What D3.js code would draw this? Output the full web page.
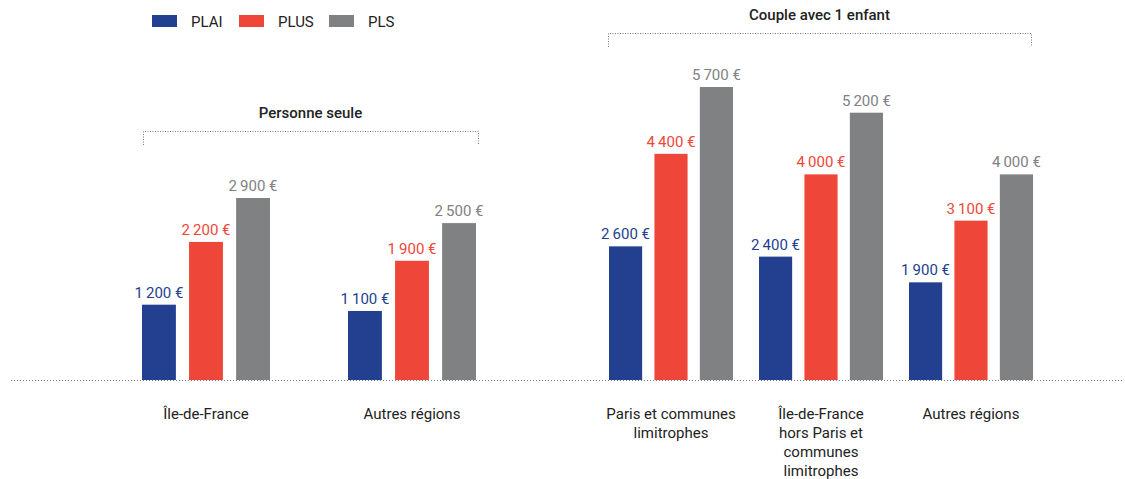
<!DOCTYPE html>
<html>
<head>
<meta charset="utf-8">
<script src="https://cdn.jsdelivr.net/npm/d3@7"></script>
<style>
  body { margin: 0; background: #fff; }
  svg { display: block; font-family: Roboto, "Noto Sans", sans-serif; }
</style>
</head>
<body>
<div id="chart"></div>
<script>
const width = 1125;
const height = 479;

// data
const series = ["PLAI", "PLUS", "PLS"];
const colors = ["#233f8f", "#ef463a", "#808183"];

const soloTitle = "Personne seule";
const soloGroups = ["Île-de-France", "Autres régions"];
const soloValues = [
    [1200, 2200, 2900],
    [1100, 1900, 2500]
];

const coupleTitle = "Couple avec 1 enfant";
const coupleGroups = ["Paris et communes limitrophes", "Île-de-France hors Paris et communes limitrophes", "Autres régions"];
const coupleLabelLines = [
    ["Paris et communes", "limitrophes"],
    ["Île-de-France", "hors Paris et", "communes", "limitrophes"],
    ["Autres régions"]
];
const coupleValues = [
    [2600, 4400, 5700],
    [2400, 4000, 5200],
    [1900, 3100, 4000]
];

const baseline = 380;
const color = d3.scaleOrdinal().domain(series).range(colors);
const fmt = v => d3.format(",")(v).replace(",", "\u2009") + " €";

const svg = d3.select("#chart").append("svg")
    .attr("width", width)
    .attr("height", height);

// baseline across the whole chart
svg.append("line")
    .attr("x1", 11).attr("x2", 1124)
    .attr("y1", baseline + 0.5).attr("y2", baseline + 0.5)
    .attr("stroke", "#777")
    .attr("stroke-dasharray", "1,2");

// each panel has its own vertical scale
function drawPanel(opts) {
    const x = d3.scaleBand().domain(opts.groups).range(opts.xRange);
    const xSub = d3.scaleBand().domain(series)
        .range([-opts.subWidth / 2, opts.subWidth / 2])
        .paddingInner(opts.pad);
    const y = d3.scaleLinear().domain(opts.yDomain).range([baseline, opts.yTop]);

    const g = svg.append("g");

    opts.groups.forEach((grp, i) => {
        const cx = x(grp) + x.bandwidth() / 2;
        const rows = series.map((s, j) => ({ s, v: opts.values[i][j] }));

        g.selectAll(null)
            .data(rows)
            .join("rect")
            .attr("x", d => cx + xSub(d.s))
            .attr("y", d => y(d.v))
            .attr("width", xSub.bandwidth())
            .attr("height", d => baseline - y(d.v))
            .attr("fill", d => color(d.s));

        g.selectAll(null)
            .data(rows)
            .join("text")
            .attr("x", d => cx + xSub(d.s) + xSub.bandwidth() / 2)
            .attr("y", d => y(d.v) - 7)
            .attr("text-anchor", "middle")
            .attr("font-size", 15)
            .attr("font-weight", 400)
            .attr("fill", d => color(d.s))
            .text(d => fmt(d.v));

        g.append("text")
            .attr("x", cx)
            .attr("y", 419)
            .attr("text-anchor", "middle")
            .attr("font-size", 15)
            .attr("fill", "#222")
            .selectAll("tspan")
            .data(opts.labelLines[i])
            .join("tspan")
            .attr("x", cx)
            .attr("dy", (d, k) => k === 0 ? 0 : 19)
            .text(d => d);
    });

    // bracket with title
    const b = opts.bracket;
    g.append("path")
        .attr("d", `M${b.x1 + 0.5},${b.y + 14}V${b.y + 0.5}H${b.x2 + 0.5}V${b.y + 14}`)
        .attr("fill", "none")
        .attr("stroke", "#777")
        .attr("stroke-dasharray", "1,1.5");
    g.append("text")
        .attr("x", (b.x1 + b.x2) / 2)
        .attr("y", b.y - 13)
        .attr("text-anchor", "middle")
        .attr("font-size", 15)
        .attr("font-weight", 500)
        .attr("fill", "#222")
        .text(opts.title);
}

drawPanel({
    title: soloTitle,
    groups: soloGroups,
    labelLines: soloGroups.map(d => [d]),
    values: soloValues,
    xRange: [103, 515],
    subWidth: 128,
    pad: 0.28,
    yDomain: [0, 2900],
    yTop: 198,
    bracket: { x1: 143, x2: 478, y: 131 }
});

drawPanel({
    title: coupleTitle,
    groups: coupleGroups,
    labelLines: coupleLabelLines,
    values: coupleValues,
    xRange: [596, 1046],
    subWidth: 124,
    pad: 0.27,
    yDomain: [0, 5700],
    yTop: 87,
    bracket: { x1: 608, x2: 1031, y: 33 }
});

// legend
const legend = svg.append("g")
    .selectAll("g")
    .data(series)
    .join("g")
    .attr("transform", (d, i) => `translate(${[152, 239, 329][i]},15)`);
legend.append("rect")
    .attr("width", 25).attr("height", 12)
    .attr("fill", d => color(d));
legend.append("text")
    .attr("x", 39).attr("y", 11.5)
    .attr("font-size", 15)
    .attr("fill", "#222")
    .text(d => d);
</script>
</body>
</html>
